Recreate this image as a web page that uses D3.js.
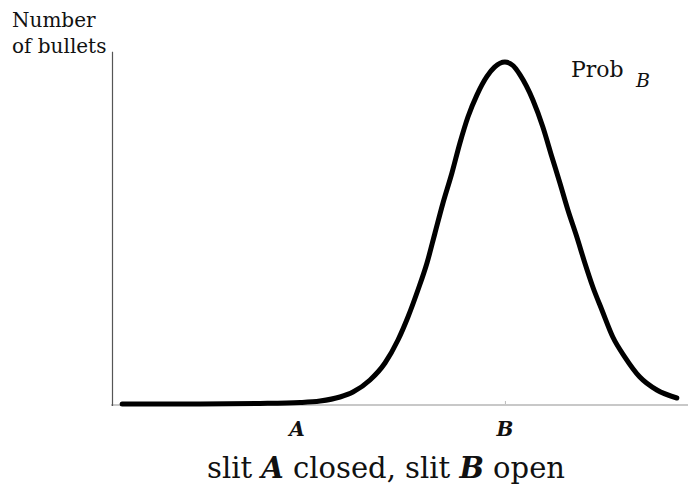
<!DOCTYPE html>
<html>
<head>
<meta charset="utf-8">
<script src="https://cdn.jsdelivr.net/npm/d3@7"></script>
<style>
  html, body { margin: 0; padding: 0; background: #fff; }
  svg { display: block; }
</style>
</head>
<body>
<script>
// Detector position (slit A at -1, slit B at +1) and bullet counts (peak = 100)
const positions = [-2.683, -1.933, -1.356, -0.971, -0.779, -0.587, -0.462, -0.298, -0.154, -0.029,
                   0.067, 0.163, 0.250, 0.327, 0.404, 0.490, 0.567, 0.644, 0.731, 0.827, 0.90, 1.0,
                   1.08, 1.144, 1.269, 1.365, 1.452, 1.529, 1.606, 1.692, 1.769, 1.846, 1.933, 2.038,
                   2.154, 2.298, 2.462, 2.654];
const counts    = [0, 0, 0.15, 0.44, 0.88, 2.05, 3.51, 7.02, 11.99, 18.71,
                   25.44, 33.33, 41.23, 50.0, 58.77, 67.54, 76.32, 83.92, 90.4, 95.8, 98.5, 100,
                   98.9, 96.3, 88.89, 80.99, 72.22, 64.62, 56.73, 48.83, 41.23, 34.21, 27.49, 19.59,
                   13.74, 7.89, 4.09, 1.75];
const tickPositions = [-1, 1];
const tickLabels = ["A", "B"];

const FONT = "'DejaVu Serif', serif";
const W = 688, H = 495;
const svg = d3.select("body").append("svg").attr("width", W).attr("height", H)
  .attr("font-family", FONT);

const x = d3.scaleLinear().domain([-2.8, 2.8]).range([110, 692]);
const y = d3.scaleLinear().domain([0, 100]).range([404, 62]);

// horizontal axis (light grey) with small ticks
svg.append("line")
  .attr("x1", 111).attr("x2", W).attr("y1", y(0) + 1).attr("y2", y(0) + 1)
  .attr("stroke", "#c8c8c8").attr("stroke-width", 2);
const xAxis = d3.axisBottom(x).tickValues(tickPositions).tickSize(-3).tickFormat("");
const gx = svg.append("g").attr("transform", `translate(0,${y(0)})`).call(xAxis);
gx.select(".domain").remove();
gx.selectAll(".tick line").attr("stroke", "#bbb").attr("stroke-width", 1);

// vertical axis
svg.append("line")
  .attr("x1", 112.5).attr("x2", 112.5).attr("y1", y(103)).attr("y2", y(0) + 2)
  .attr("stroke", "#555").attr("stroke-width", 1.2);

// tick labels
svg.append("g").selectAll("text").data(tickPositions).join("text")
  .attr("x", d => x(d)).attr("y", 436)
  .attr("text-anchor", "middle")
  .attr("fill", "#111")
  .attr("font-family", FONT)
  .attr("font-size", 20).attr("font-weight", "bold").attr("font-style", "italic")
  .text((d, i) => tickLabels[i]);

// the distribution curve
const line = d3.line().x((d, i) => x(positions[i])).y(d => y(d)).curve(d3.curveMonotoneX);
svg.append("path").datum(counts)
  .attr("d", line)
  .attr("fill", "none").attr("stroke", "#000").attr("stroke-width", 5)
  .attr("stroke-linecap", "round").attr("stroke-linejoin", "round");

// axis title
const yt = svg.append("text").attr("fill", "#111")
  .attr("font-family", FONT).attr("font-size", 20);
yt.append("tspan").attr("x", 12).attr("y", 27).text("Number");
yt.append("tspan").attr("x", 12).attr("y", 53).text("of bullets");

// curve label
const lab = svg.append("text").attr("x", 571).attr("y", 77).attr("fill", "#111")
  .attr("font-family", FONT).attr("font-size", 22);
lab.append("tspan").text("Prob");
lab.append("tspan").attr("x", 636).attr("y", 87).attr("font-style", "italic").attr("font-size", 19).text("B");

// caption
const cap = svg.append("text").attr("x", 386).attr("y", 478).attr("text-anchor", "middle")
  .attr("fill", "#111").attr("font-family", FONT).attr("font-size", 29);
cap.append("tspan").text("slit ");
cap.append("tspan").attr("font-weight", "bold").attr("font-style", "italic").text("A");
cap.append("tspan").text(" closed, slit ");
cap.append("tspan").attr("font-weight", "bold").attr("font-style", "italic").text("B");
cap.append("tspan").text(" open");
</script>
</body>
</html>
